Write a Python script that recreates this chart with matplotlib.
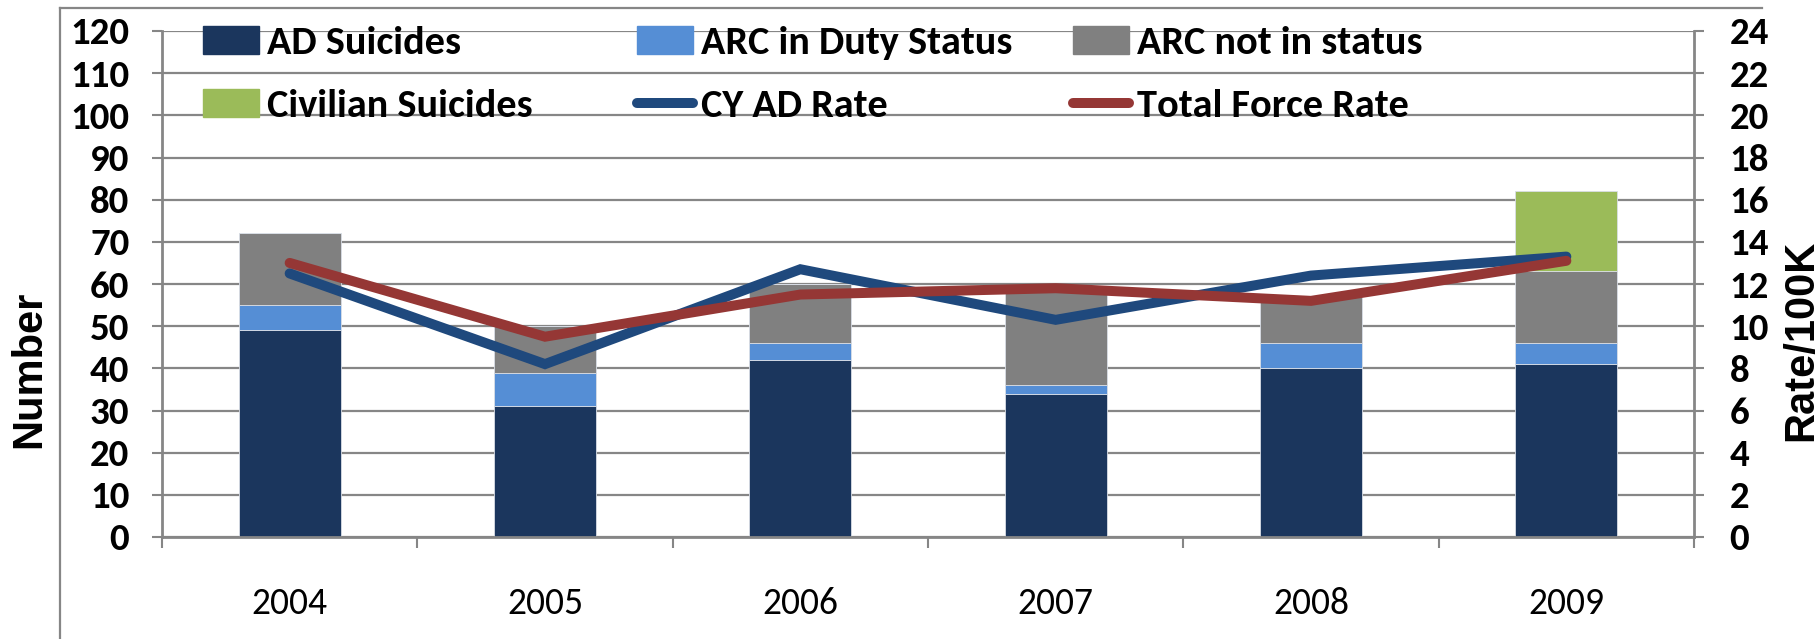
import numpy as np
import matplotlib
matplotlib.use('Agg')
import matplotlib.pyplot as plt
from matplotlib.lines import Line2D
from matplotlib.patches import Patch

# dane
years = ['2004', '2005', '2006', '2007', '2008', '2009']
ad_suicides = [49, 31, 42, 34, 40, 41]
arc_duty = [6, 8, 4, 2, 6, 5]
arc_not = [17, 11, 14, 22, 11, 17]
civilian = [0, 0, 0, 0, 0, 19]
cy_ad_rate = [12.5, 8.2, 12.7, 10.3, 12.4, 13.3]
total_force_rate = [13.0, 9.5, 11.5, 11.8, 11.2, 13.1]

c_ad = '#1B365D'
c_duty = '#558ED5'
c_not = '#808080'
c_civ = '#9BBB59'
c_cy = '#1F497D'
c_tf = '#953735'
c_axis = '#868686'

calibri = ['Carlito', 'Fira Sans Condensed', 'DejaVu Sans']
plt.rcParams['font.family'] = calibri

fig = plt.figure(figsize=(18.2, 6.39), dpi=100)
ax1 = fig.add_axes([162 / 1820, 102 / 639, (1694 - 162) / 1820, (537 - 31) / 639])

x = np.arange(len(years))
w = 0.4
bottom = np.zeros(len(years))
series = [(ad_suicides, c_ad, 'AD Suicides'),
          (arc_duty, c_duty, 'ARC in Duty Status'),
          (arc_not, c_not, 'ARC not in status'),
          (civilian, c_civ, 'Civilian Suicides')]
for vals, col, lab in series:
    ax1.bar(x, vals, w, bottom=bottom, color=col, edgecolor='#D9DEE6', linewidth=0.6, label=lab, zorder=2)
    bottom += np.array(vals)

ax1.set_xlim(-0.5, len(years) - 0.5)
ax1.set_ylim(0, 120)
ax1.set_yticks(np.arange(0, 121, 10))
ax1.yaxis.grid(True, color=c_axis, linewidth=1.6)
ax1.set_axisbelow(True)

ax1.set_xticks(x)
ax1.set_xticklabels(years, fontsize=27)
ax1.set_xticks(np.arange(-0.5, len(years)), minor=True)
ax1.tick_params(axis='x', which='major', length=0, pad=36)
ax1.tick_params(axis='x', which='minor', length=8, width=1.5, color=c_axis, direction='out')
ax1.tick_params(axis='y', length=7.5, width=1.5, color=c_axis, direction='out', pad=16, labelsize=28)
for t in ax1.get_yticklabels():
    t.set_fontweight('bold')

for s in ['top', 'right']:
    ax1.spines[s].set_visible(False)
for s in ['left', 'bottom']:
    ax1.spines[s].set_color(c_axis)
    ax1.spines[s].set_linewidth(2)

lw = 7.2
ax2 = ax1.twinx()
ax2.plot(x, cy_ad_rate, color=c_cy, linewidth=lw, solid_capstyle='round', solid_joinstyle='miter', zorder=3)
ax2.plot(x, total_force_rate, color=c_tf, linewidth=lw, solid_capstyle='round', solid_joinstyle='miter', zorder=4)
ax2.set_ylim(0, 24)
ax2.set_yticks(np.arange(0, 25, 2))
ax2.tick_params(axis='y', length=7.5, width=1.5, color=c_axis, direction='out', pad=18, labelsize=28)
for t in ax2.get_yticklabels():
    t.set_fontweight('bold')
for s in ['top', 'left', 'bottom']:
    ax2.spines[s].set_visible(False)
ax2.spines['right'].set_color(c_axis)
ax2.spines['right'].set_linewidth(2)

arial = ['Liberation Sans', 'DejaVu Sans']
fig.text(29 / 1820, 1 - 369 / 639, 'Number', rotation=90, ha='center', va='center',
         fontsize=30, fontweight='bold', family=arial)
fig.text(1801 / 1820, 1 - 340 / 639, 'Rate/100K', rotation=90, ha='center', va='center',
         fontsize=30, fontweight='bold', family=arial)

# legenda: trzy kolumny po dwa wpisy
def line_handle(col):
    return Line2D([0], [0], color=col, linewidth=lw, solid_capstyle='round')

columns = [
    ([Patch(color=c_ad), Patch(color=c_civ)], ['AD Suicides', 'Civilian Suicides'], 203),
    ([Patch(color=c_duty), line_handle(c_cy)], ['ARC in Duty Status', 'CY AD Rate'], 637),
    ([Patch(color=c_not), line_handle(c_tf)], ['ARC not in status', 'Total Force Rate'], 1073),
]
for handles, labels, xpx in columns:
    leg = fig.legend(handles, labels, loc='upper left', bbox_to_anchor=(xpx / 1820, 1 - 26 / 639),
                     frameon=False, borderpad=0, borderaxespad=0, handlelength=1.4,
                     handleheight=0.68, handletextpad=0.2, labelspacing=0.73,
                     prop={'family': calibri, 'weight': 'bold', 'size': 29})

# ramka obszaru wykresu (widoczna tylko góra i lewa strona)
fig.add_artist(Line2D([60 / 1820, 1762 / 1820], [1 - 8 / 639, 1 - 8 / 639], color=c_axis, linewidth=1.6))
fig.add_artist(Line2D([60 / 1820, 60 / 1820], [1 - 8 / 639, 0], color=c_axis, linewidth=1.6))

fig.savefig('out.png', dpi=100)
